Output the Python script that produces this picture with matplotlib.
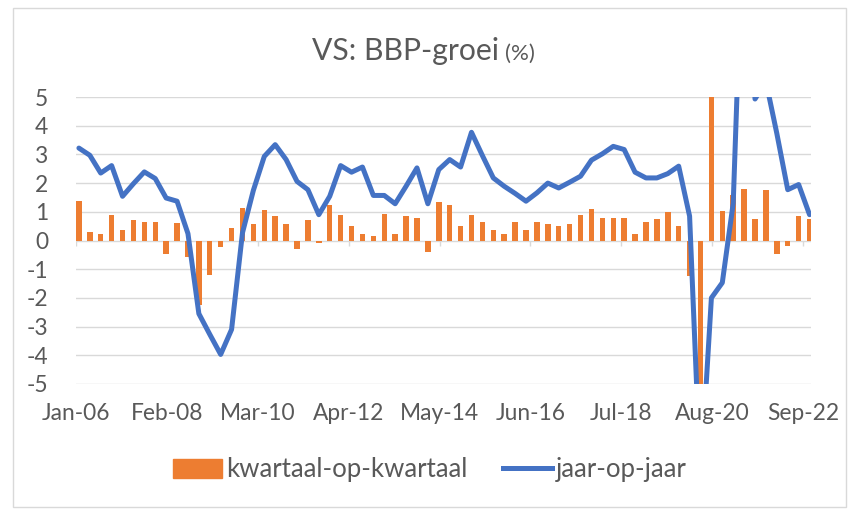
import matplotlib
matplotlib.use("Agg")
import matplotlib.pyplot as plt
from matplotlib.patches import Rectangle, Patch
from matplotlib.lines import Line2D
import numpy as np

# US GDP growth, quarterly 2006Q1 - 2022Q4 (%)
qoq = [1.39, 0.30, 0.23, 0.88, 0.35, 0.70, 0.66, 0.66, -0.46, 0.61, -0.58, -2.23, -1.20, -0.23, 0.43, 1.12,
       0.59, 1.06, 0.85, 0.59, -0.31, 0.73, -0.10, 1.22, 0.90, 0.52, 0.24, 0.17, 0.94, 0.21, 0.87, 0.79,
       -0.40, 1.35, 1.25, 0.52, 0.89, 0.66, 0.38, 0.21, 0.66, 0.35, 0.66, 0.56, 0.52, 0.59, 0.89, 1.10,
       0.79, 0.79, 0.79, 0.24, 0.64, 0.75, 0.99, 0.52, -1.24, -8.9, 7.5, 1.02, 1.57, 1.80, 0.75, 1.75,
       -0.46, -0.20, 0.87, 0.75]
yoy = [3.22, 2.97, 2.35, 2.61, 1.54, 1.98, 2.39, 2.16, 1.48, 1.37, 0.24, -2.55, -3.27, -3.97, -3.10, 0.27,
       1.75, 2.93, 3.34, 2.82, 2.06, 1.77, 0.90, 1.54, 2.61, 2.38, 2.56, 1.57, 1.57, 1.28, 1.89, 2.53,
       1.28, 2.47, 2.82, 2.56, 3.77, 2.96, 2.18, 1.89, 1.64, 1.37, 1.66, 2.00, 1.83, 2.03, 2.24, 2.80,
       3.02, 3.28, 3.17, 2.38, 2.18, 2.18, 2.33, 2.59, 0.85, -8.3, -2.0, -1.47, 1.30, 12.2, 4.93, 5.54,
       3.73, 1.77, 1.95, 0.90]
tick_labels = ["Jan-06", "Feb-08", "Mar-10", "Apr-12", "May-14", "Jun-16", "Jul-18", "Aug-20", "Sep-22"]
tick_months = [0, 25, 50, 75, 100, 125, 150, 175, 200]

ORANGE = "#ED7D31"
BLUE = "#4472C4"
TEXT = "#595959"
GRID = "#D9D9D9"

plt.rcParams["font.family"] = ["Lato", "DejaVu Sans"]
plt.rcParams["axes.unicode_minus"] = False

W, H = 858, 522
fig = plt.figure(figsize=(W / 100, H / 100), dpi=100)
ax = fig.add_axes([76 / W, 1 - 384 / H, (811 - 76) / W, (384 - 97) / H])

x = np.arange(len(qoq)) * 3 + 0.8
ax.bar(x, qoq, width=1.5, color=ORANGE, zorder=2)
ax.plot(x, yoy, color=BLUE, lw=3.6, solid_joinstyle="round", solid_capstyle="round", zorder=3)

ax.set_xlim(0, 202.2)
ax.set_ylim(-5, 5)
ax.set_yticks(range(-5, 6))
ax.grid(axis="y", color=GRID, lw=1, zorder=0)
ax.set_axisbelow(True)
for s in ax.spines.values():
    s.set_visible(False)
ax.set_xticks(tick_months, tick_labels)
ax.tick_params(axis="y", length=0, pad=20, labelsize=16.4, labelcolor=TEXT)
ax.tick_params(axis="x", length=0, pad=14, labelsize=16.4, labelcolor=TEXT)
ax.vlines(tick_months, -0.2, 0, color=GRID, lw=1, zorder=1)

# chart border
fig.patches.append(Rectangle((13 / W, 1 - 507 / H), (846 - 13) / W, (507 - 8) / H,
                             transform=fig.transFigure, fill=False, ec=GRID, lw=1))

fig.text(499 / W, 1 - 60 / H, "VS: BBP-groei", ha="right", va="baseline", fontsize=21.7, color=TEXT)
fig.text(505 / W, 1 - 60 / H, "(%)", ha="left", va="baseline", fontsize=16, color=TEXT)

handles = [Patch(color=ORANGE), Line2D([], [], color=BLUE, lw=3.6)]
fig.legend(handles, ["kwartaal-op-kwartaal", "jaar-op-jaar"], ncol=2, loc="center",
           bbox_to_anchor=(430 / W, 1 - 470 / H), frameon=False, fontsize=18.5,
           labelcolor=TEXT, handlelength=1.9, handleheight=0.8, handletextpad=0.15,
           columnspacing=1.4)

fig.savefig("out.png", dpi=100)
